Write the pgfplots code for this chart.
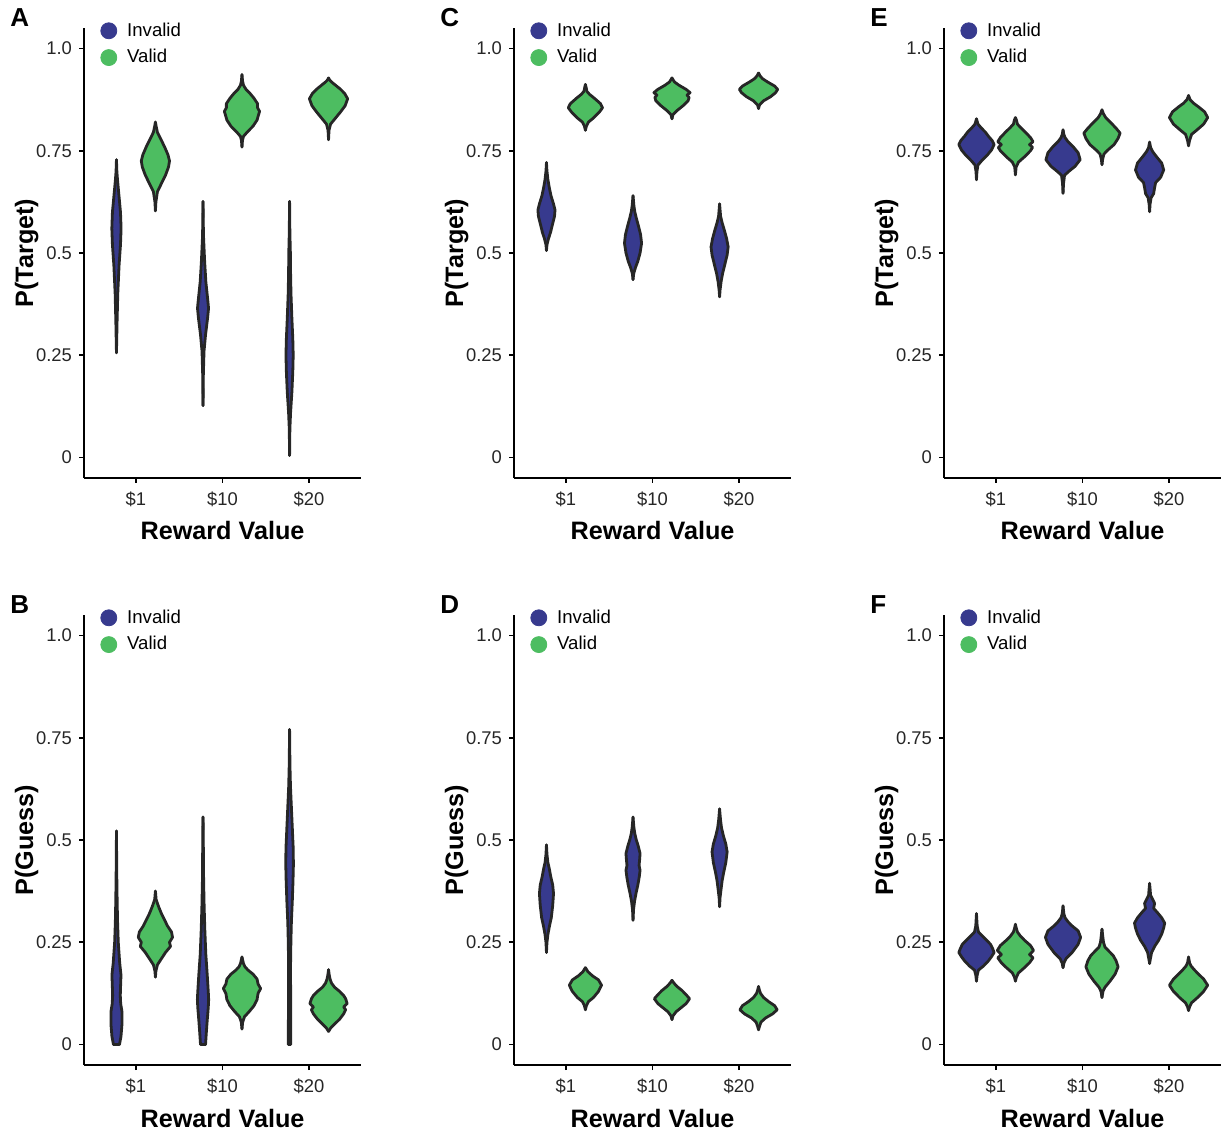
\documentclass[border=0pt]{standalone}
\usepackage{fontspec}
\setmainfont{Liberation Sans}
\usepackage{pgfplots}
\pgfplotsset{compat=1.18}
\usepgfplotslibrary{fillbetween}
\usepackage{pgfplotstable}

\definecolor{cinv}{RGB}{55,58,142}
\definecolor{cval}{RGB}{77,189,97}
\definecolor{cline}{RGB}{38,38,38}
\definecolor{ctick}{RGB}{38,38,38}

% violin outlines: y and half-width w (w in px of the original, 86 px per category)
% panel A
\pgfplotstableread[row sep=\\]{y w\\0.256 0\\0.33 0.6\\0.40 1.3\\0.47 2.6\\0.52 4\\0.56 4.6\\0.60 4\\0.64 2.5\\0.68 1\\0.70 0.4\\0.728 0\\}\AIone
\pgfplotstableread[row sep=\\]{y w\\0.603 0\\0.625 0.5\\0.65 2\\0.67 6\\0.69 10\\0.71 13\\0.725 14\\0.74 12.5\\0.76 9\\0.78 5\\0.795 2\\0.81 0.7\\0.82 0\\}\AVone
\pgfplotstableread[row sep=\\]{y w\\0.127 0\\0.20 0.3\\0.26 1\\0.30 2.5\\0.34 4.5\\0.365 5.5\\0.39 4.5\\0.43 2.8\\0.48 1.6\\0.54 0.5\\0.58 0.2\\0.626 0\\}\AIten
\pgfplotstableread[row sep=\\]{y w\\0.759 0\\0.775 0.5\\0.785 1.5\\0.795 5\\0.81 11\\0.825 15\\0.838 16.5\\0.846 17.5\\0.855 15.5\\0.865 15.5\\0.878 12\\0.89 8\\0.90 4\\0.91 1.5\\0.92 0.6\\0.936 0\\}\AVten
\pgfplotstableread[row sep=\\]{y w\\0.005 0\\0.07 0.3\\0.11 1\\0.16 2.3\\0.21 3.2\\0.25 3.6\\0.29 3.2\\0.34 2.3\\0.40 1.4\\0.45 1\\0.50 0.8\\0.55 0.3\\0.626 0\\}\AItw
\pgfplotstableread[row sep=\\]{y w\\0.777 0\\0.80 0.5\\0.815 2\\0.83 7\\0.845 12\\0.86 16.5\\0.877 19\\0.89 16\\0.90 12\\0.91 7\\0.918 3\\0.923 1\\0.928 0\\}\AVtw
% panel B
\pgfplotstableread[row sep=\\]{y w\\0 0\\0 3\\0.02 4.5\\0.05 5.5\\0.08 5.5\\0.10 4.2\\0.12 3.8\\0.15 4.2\\0.17 4.5\\0.20 3.2\\0.25 1.8\\0.30 1.1\\0.35 0.7\\0.40 0.4\\0.45 0.2\\0.522 0\\}\BIone
\pgfplotstableread[row sep=\\]{y w\\0.165 0\\0.18 0.5\\0.195 2\\0.21 6\\0.225 10\\0.24 15\\0.25 14\\0.262 17\\0.275 16\\0.29 12\\0.305 9\\0.32 6\\0.335 3.5\\0.345 2\\0.355 0.7\\0.375 0\\}\BVone
\pgfplotstableread[row sep=\\]{y w\\0 0\\0 2.5\\0.03 3.3\\0.06 4.2\\0.09 5.2\\0.11 5.6\\0.13 5.2\\0.17 4.2\\0.22 2.8\\0.28 1.8\\0.34 1.1\\0.40 0.6\\0.46 0.4\\0.52 0.2\\0.556 0\\}\BIten
\pgfplotstableread[row sep=\\]{y w\\0.038 0\\0.055 0.7\\0.068 2.5\\0.08 7\\0.095 12\\0.11 15\\0.125 16\\0.137 18.5\\0.148 16\\0.16 15\\0.172 11\\0.182 6\\0.19 3\\0.198 1.5\\0.214 0\\}\BVten
\pgfplotstableread[row sep=\\]{y w\\0 0\\0 1.2\\0.05 1.2\\0.10 1.1\\0.15 1\\0.20 1\\0.25 1.3\\0.30 1.8\\0.35 2.7\\0.40 3.4\\0.44 3.8\\0.48 3.6\\0.53 2.7\\0.58 1.8\\0.63 0.9\\0.68 0.4\\0.72 0.2\\0.77 0\\}\BItw
\pgfplotstableread[row sep=\\]{y w\\0.032 0\\0.04 2\\0.05 6\\0.062 11\\0.075 15\\0.085 17\\0.092 15\\0.10 18.5\\0.112 17\\0.12 15\\0.13 11\\0.14 6\\0.15 3\\0.16 1.5\\0.17 0.7\\0.183 0\\}\BVtw
% panel C
\pgfplotstableread[row sep=\\]{y w\\0.506 0\\0.52 0.5\\0.535 2\\0.55 4\\0.57 6\\0.59 8\\0.605 8.5\\0.62 7\\0.64 4.5\\0.66 2.8\\0.68 1.4\\0.70 0.5\\0.721 0\\}\CIone
\pgfplotstableread[row sep=\\]{y w\\0.80 0\\0.81 1\\0.82 3\\0.83 8\\0.845 14\\0.855 17\\0.865 15\\0.878 9\\0.888 4\\0.895 1.5\\0.905 0.7\\0.912 0\\}\CVone
\pgfplotstableread[row sep=\\]{y w\\0.435 0\\0.45 0.7\\0.465 2.5\\0.48 4.8\\0.50 7\\0.524 8.5\\0.545 7.5\\0.565 5.5\\0.585 3.3\\0.60 1.8\\0.615 0.9\\0.64 0\\}\CIten
\pgfplotstableread[row sep=\\]{y w\\0.828 0\\0.838 1\\0.848 5\\0.86 11\\0.872 16\\0.88 17\\0.886 15\\0.892 18\\0.90 14\\0.91 7\\0.918 2.5\\0.925 0.7\\0.928 0\\}\CVten
\pgfplotstableread[row sep=\\]{y w\\0.393 0\\0.41 0.5\\0.43 1.5\\0.45 3\\0.47 5\\0.495 7.5\\0.515 8.5\\0.535 7\\0.555 4.8\\0.575 2.4\\0.59 1\\0.62 0\\}\CItw
\pgfplotstableread[row sep=\\]{y w\\0.853 0\\0.862 1\\0.872 5\\0.882 12\\0.892 17\\0.90 19\\0.908 16\\0.918 9\\0.926 4\\0.933 1.5\\0.94 0\\}\CVtw
% panel D
\pgfplotstableread[row sep=\\]{y w\\0.225 0\\0.25 0.5\\0.27 1.5\\0.29 3\\0.31 4.8\\0.34 6.2\\0.369 7\\0.39 6.2\\0.41 4.3\\0.43 2.8\\0.445 1.4\\0.465 0.5\\0.488 0\\}\DIone
\pgfplotstableread[row sep=\\]{y w\\0.085 0\\0.095 1\\0.105 3\\0.115 8\\0.13 13\\0.145 16\\0.158 13\\0.168 7\\0.178 2.5\\0.188 0\\}\DVone
\pgfplotstableread[row sep=\\]{y w\\0.304 0\\0.33 0.5\\0.35 1.5\\0.37 3\\0.39 4.8\\0.41 6.2\\0.426 7\\0.438 6\\0.45 6.5\\0.467 7\\0.485 5.2\\0.50 3.3\\0.515 1.8\\0.53 0.9\\0.556 0\\}\DIten
\pgfplotstableread[row sep=\\]{y w\\0.061 0\\0.07 1\\0.08 4\\0.09 9\\0.10 14\\0.112 17.5\\0.122 14\\0.132 10\\0.142 5\\0.15 2\\0.157 0\\}\DVten
\pgfplotstableread[row sep=\\]{y w\\0.337 0\\0.36 0.5\\0.38 1.5\\0.40 2.5\\0.42 4\\0.445 6.2\\0.471 7.5\\0.49 6.2\\0.51 3.8\\0.53 1.9\\0.55 0.9\\0.576 0\\}\DItw
\pgfplotstableread[row sep=\\]{y w\\0.036 0\\0.045 1\\0.055 2.5\\0.065 7\\0.075 14\\0.085 18.5\\0.095 16\\0.105 10\\0.115 5\\0.125 2\\0.132 1\\0.142 0\\}\DVtw
% panel E
\pgfplotstableread[row sep=\\]{y w\\0.679 0\\0.70 0.5\\0.715 1.5\\0.725 5\\0.74 11\\0.752 15\\0.765 17.5\\0.775 15.5\\0.785 12\\0.795 9\\0.805 5\\0.815 1.5\\0.828 0\\}\EIone
\pgfplotstableread[row sep=\\]{y w\\0.691 0\\0.71 0.7\\0.722 3\\0.735 9\\0.75 15\\0.758 17\\0.765 14\\0.772 17.5\\0.782 15\\0.795 10\\0.807 5\\0.815 2\\0.825 1\\0.831 0\\}\EVone
\pgfplotstableread[row sep=\\]{y w\\0.646 0\\0.67 0.5\\0.69 1.5\\0.70 6\\0.712 12\\0.728 17\\0.745 15\\0.76 10\\0.772 5\\0.782 2\\0.79 0.8\\0.801 0\\}\EIten
\pgfplotstableread[row sep=\\]{y w\\0.716 0\\0.73 0.7\\0.742 2\\0.752 6\\0.765 12\\0.78 16\\0.793 18\\0.805 14\\0.818 9\\0.83 4\\0.84 1.5\\0.85 0\\}\EVten
\pgfplotstableread[row sep=\\]{y w\\0.601 0\\0.62 0.5\\0.635 1.5\\0.645 4\\0.66 5\\0.672 6\\0.685 11\\0.703 14\\0.72 12\\0.735 7\\0.748 3\\0.758 1\\0.771 0\\}\EItw
\pgfplotstableread[row sep=\\]{y w\\0.762 0\\0.775 1\\0.79 3\\0.80 8\\0.815 15\\0.831 19\\0.845 16\\0.857 10\\0.866 5\\0.875 1.5\\0.885 0\\}\EVtw
% panel F
\pgfplotstableread[row sep=\\]{y w\\0.155 0\\0.17 0.7\\0.182 2\\0.192 7\\0.205 12\\0.215 15\\0.225 17.5\\0.235 16\\0.245 14\\0.255 10\\0.265 6\\0.275 2\\0.29 0.7\\0.32 0\\}\FIone
\pgfplotstableread[row sep=\\]{y w\\0.155 0\\0.165 1\\0.175 3\\0.188 9\\0.20 14\\0.212 17.5\\0.22 14\\0.23 18\\0.242 15\\0.255 9\\0.265 5\\0.275 2\\0.285 0.8\\0.294 0\\}\FVone
\pgfplotstableread[row sep=\\]{y w\\0.188 0\\0.20 1\\0.21 3\\0.225 9\\0.245 15\\0.262 17.5\\0.278 15\\0.29 9\\0.30 5\\0.31 2\\0.32 0.8\\0.339 0\\}\FIten
\pgfplotstableread[row sep=\\]{y w\\0.115 0\\0.13 1\\0.14 3\\0.155 8\\0.172 13\\0.19 16\\0.205 14\\0.218 11\\0.228 7\\0.238 3\\0.25 1.5\\0.26 1\\0.282 0\\}\FVten
\pgfplotstableread[row sep=\\]{y w\\0.198 0\\0.21 0.8\\0.225 2\\0.24 5\\0.255 9\\0.27 12\\0.285 14\\0.297 15\\0.31 12\\0.322 8\\0.333 4\\0.345 5\\0.355 3\\0.365 1\\0.38 0.5\\0.394 0\\}\FItw
\pgfplotstableread[row sep=\\]{y w\\0.083 0\\0.092 1\\0.102 3\\0.115 9\\0.13 15\\0.145 19\\0.16 15\\0.172 10\\0.182 6\\0.192 2.5\\0.20 1\\0.214 0\\}\FVtw

\pgfplotsset{vedge/.style={draw=cline, line width=1.4pt, line join=round, line cap=round, mark=none, forget plot}}

% one violin: #1 id, #2 centre, #3 fill, #4 table
\newcommand{\violin}[4]{%
  \addplot[draw=none, forget plot, name path=#1r] table[x expr={#2+\thisrow{w}/86}, y=y] {#4};
  \addplot[draw=none, forget plot, name path=#1l] table[x expr={#2-\thisrow{w}/86}, y=y] {#4};
  \addplot[fill=#3, draw=none, forget plot] fill between[of=#1r and #1l];
  \addplot[vedge] table[x expr={#2+\thisrow{w}/86}, y=y] {#4};
  \addplot[vedge] table[x expr={#2-\thisrow{w}/86}, y=y] {#4};
}
\newcommand{\legendbits}{%
  \addlegendimage{legend image code/.code={\fill[cinv] (4pt,0pt) circle (4pt);}}
  \addlegendentry{Invalid}
  \addlegendimage{legend image code/.code={\fill[cval] (4pt,0pt) circle (4pt);}}
  \addlegendentry{Valid}
}

\pgfplotsset{
  panel/.style={
    scale only axis, width=138.5pt, height=225pt, anchor=south west,
    xmin=0.4, xmax=3.6, ymin=-0.05, ymax=1.05,
    axis x line*=bottom, axis y line*=left,
    axis line style={line width=1pt},
    xtick={1,2,3}, xticklabels={\$1,\$10,\$20},
    ytick={0,0.25,0.5,0.75,1}, yticklabels={0,0.25,0.5,0.75,1.0},
    tick align=outside, major tick length=2.5pt,
    tick style={line width=0.8pt, color=black},
    ticklabel style={font=\fontsize{9.2}{11}\selectfont, text=ctick},
    xticklabel style={yshift=-1pt},
    xlabel={Reward Value},
    xlabel style={at={([yshift=-31pt]axis description cs:0.5,0)}, anchor=base,
      font=\bfseries\fontsize{12.6}{15}\selectfont},
    ylabel style={at={([xshift=-25.5pt]axis description cs:0,0.5)}, anchor=base,
      font=\bfseries\fontsize{12.6}{15}\selectfont},
    legend style={at={(axis description cs:0,1)}, anchor=north west,
      xshift=8pt, yshift=3pt, draw=none, fill=none, inner sep=0pt,
      row sep=5pt, column sep=5pt, nodes={inner sep=0pt},
      font=\fontsize{9.3}{11}\selectfont},
    legend cell align=left,
    clip=false,
  },
}

\begin{document}
\begin{tikzpicture}
\path (0,0) rectangle (614.5pt,567pt);

\begin{axis}[panel, at={(42pt,328pt)}, ylabel={P(Target)}]
\legendbits
\violin{Aa}{0.775}{cinv}{\AIone}
\violin{Ab}{1.225}{cval}{\AVone}
\violin{Ac}{1.775}{cinv}{\AIten}
\violin{Ad}{2.225}{cval}{\AVten}
\violin{Ae}{2.775}{cinv}{\AItw}
\violin{Af}{3.225}{cval}{\AVtw}
\end{axis}

\begin{axis}[panel, at={(257pt,328pt)}, ylabel={P(Target)}]
\legendbits
\violin{Ca}{0.775}{cinv}{\CIone}
\violin{Cb}{1.225}{cval}{\CVone}
\violin{Cc}{1.775}{cinv}{\CIten}
\violin{Cd}{2.225}{cval}{\CVten}
\violin{Ce}{2.775}{cinv}{\CItw}
\violin{Cf}{3.225}{cval}{\CVtw}
\end{axis}

\begin{axis}[panel, at={(472pt,328pt)}, ylabel={P(Target)}]
\legendbits
\violin{Ea}{0.775}{cinv}{\EIone}
\violin{Eb}{1.225}{cval}{\EVone}
\violin{Ec}{1.775}{cinv}{\EIten}
\violin{Ed}{2.225}{cval}{\EVten}
\violin{Ee}{2.775}{cinv}{\EItw}
\violin{Ef}{3.225}{cval}{\EVtw}
\end{axis}

\begin{axis}[panel, at={(42pt,34.5pt)}, ylabel={P(Guess)}]
\legendbits
\violin{Ba}{0.775}{cinv}{\BIone}
\violin{Bb}{1.225}{cval}{\BVone}
\violin{Bc}{1.775}{cinv}{\BIten}
\violin{Bd}{2.225}{cval}{\BVten}
\violin{Be}{2.775}{cinv}{\BItw}
\violin{Bf}{3.225}{cval}{\BVtw}
\end{axis}

\begin{axis}[panel, at={(257pt,34.5pt)}, ylabel={P(Guess)}]
\legendbits
\violin{Da}{0.775}{cinv}{\DIone}
\violin{Db}{1.225}{cval}{\DVone}
\violin{Dc}{1.775}{cinv}{\DIten}
\violin{Dd}{2.225}{cval}{\DVten}
\violin{De}{2.775}{cinv}{\DItw}
\violin{Df}{3.225}{cval}{\DVtw}
\end{axis}

\begin{axis}[panel, at={(472pt,34.5pt)}, ylabel={P(Guess)}]
\legendbits
\violin{Fa}{0.775}{cinv}{\FIone}
\violin{Fb}{1.225}{cval}{\FVone}
\violin{Fc}{1.775}{cinv}{\FIten}
\violin{Fd}{2.225}{cval}{\FVten}
\violin{Fe}{2.775}{cinv}{\FItw}
\violin{Ff}{3.225}{cval}{\FVtw}
\end{axis}

\foreach \L/\x/\y in {A/5/553.5, C/220/553.5, E/435/553.5, B/5/260, D/220/260, F/435/260}
  \node[anchor=base west, inner sep=0pt, font=\bfseries\fontsize{13}{15}\selectfont]
    at (\x pt,\y pt) {\L};
\end{tikzpicture}
\end{document}
